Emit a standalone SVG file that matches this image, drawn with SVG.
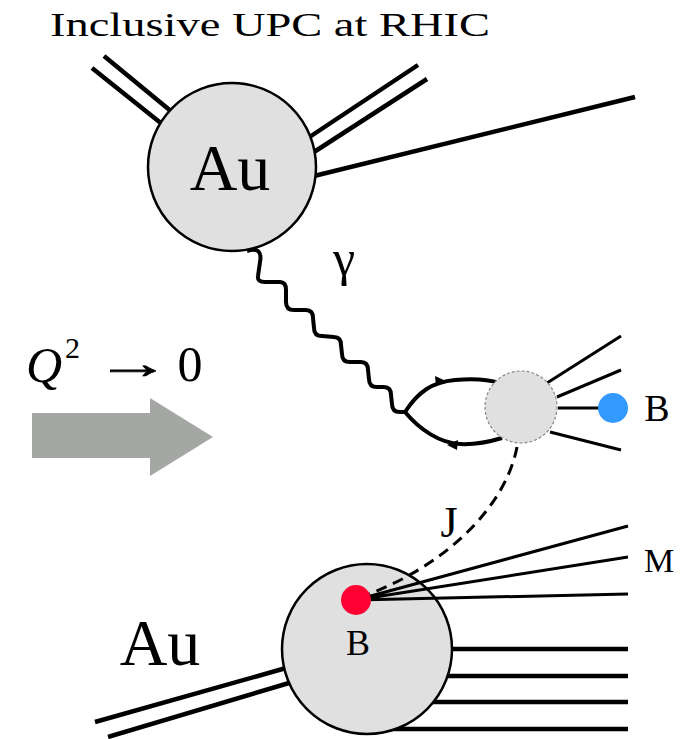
<svg xmlns="http://www.w3.org/2000/svg" width="687" height="739" viewBox="0 0 687 739">
<style>
.t{font-family:"Liberation Serif","DejaVu Serif",serif;fill:#000}
.ln{stroke:#000;fill:none;stroke-linecap:butt}
.nuc{fill:#e0e0e0;stroke:#000;stroke-width:2.5}
</style>
<rect width="687" height="739" fill="#fff"/>
<text class="t" x="50" y="36" font-size="34" textLength="440" lengthAdjust="spacingAndGlyphs">Inclusive UPC at RHIC</text>

<g id="connectors">
  <!-- top nucleus legs -->
  <path class="ln" stroke-width="4.5" d="M92,68 L162,124 M104,56 L172,112"/>
  <path class="ln" stroke-width="4.5" d="M418,65 L308,138 M427,79 L314,152"/>
  <path class="ln" stroke-width="4.5" d="M635,97 L314,176"/>
  <!-- photon -->
  <path class="ln" stroke-width="4" stroke-linejoin="round" stroke-linecap="round" d="M247,251 Q263,246 260,262 L258,276 Q257,282 265,282 L280,282 Q286,282 286,290 L286,302 Q286,310 294,310 L306,310 Q313,310 313,318 L314,328 Q314,336 322,336 L334,337 Q341,337 341,345 L342,354 Q342,362 350,362 L361,362 Q368,362 368,370 L369,379 Q369,387 377,387 L384,387 Q391,387 391,395 L392,404 Q392,412 400,412 L405,412"/>
  <!-- quark loop -->
  <path class="ln" stroke-width="4" d="M405,412 C418,392 432,382 455,380 C475,378 490,380 500,383"/>
  <path class="ln" stroke-width="4" d="M405,412 C420,430 440,443 460,444 C478,445 492,441 502,438"/>
  <path d="M435,376 L446,381 L436,386 Z" fill="#000"/>
  <path d="M458,440 L447,445 L457,450 Z" fill="#000"/>
  <!-- blob outgoing -->
  <path class="ln" stroke-width="3" d="M547,383 L621,336 M557,397 L621,370 M558,408 L613,408 M550,432 L621,450"/>
  <!-- bottom nucleus legs -->
  <path class="ln" stroke-width="4.5" d="M95,722 L286,668 M108,737 L289,683"/>
  <path class="ln" stroke-width="4.5" d="M440,649 L628,649 M440,676 L628,676 M425,702 L628,702 M385,729 L628,729"/>
</g>

<g id="nucleus-top">
  <circle class="nuc" cx="232" cy="167" r="84"/>
  <text class="t" x="230" y="190" font-size="66" text-anchor="middle">Au</text>
</g>

<g id="photon-label">
  <text class="t" x="344" y="275" font-size="50" text-anchor="middle">γ</text>
</g>

<g id="blob">
  <circle cx="521" cy="407" r="36" fill="#e0e0e0" stroke="#888" stroke-width="1.2" stroke-dasharray="3,2"/>
</g>

<g id="B-top">
  <circle cx="613" cy="408" r="15" fill="#3399ff"/>
  <text class="t" x="657" y="421" font-size="38" text-anchor="middle">B</text>
</g>

<g id="q2label">
  <text class="t" x="26" y="382" font-size="50" font-style="italic">Q</text>
  <text class="t" x="65" y="358" font-size="30">2</text>
  <text class="t" transform="translate(95,378) scale(1.9,1.1)" font-size="40" stroke="#000" stroke-width="0.6">→</text>
  <text class="t" x="190" y="381" font-size="50" text-anchor="middle">0</text>
</g>

<g id="big-arrow">
  <path d="M32,413 L150,413 L150,398 L213,437 L150,476 L150,458 L32,458 Z" fill="#a5a7a5"/>
</g>

<g id="nucleus-bottom">
  <circle class="nuc" cx="367" cy="649" r="85"/>
  <text class="t" x="358" y="655" font-size="36" text-anchor="middle">B</text>
</g>

<g id="fan">
  <path class="ln" stroke-width="3" d="M356,600 L628,526 M356,600 L628,557 M356,600 L628,594"/>
  <path class="ln" stroke-width="3" stroke-dasharray="11,7" d="M517,447 C505,510 440,570 358,598"/>
  <circle cx="356" cy="600" r="15" fill="#ff0033"/>
</g>

<g id="labels">
  <text class="t" x="449" y="537" font-size="44" text-anchor="middle">J</text>
  <text class="t" x="659" y="572" font-size="34" text-anchor="middle">M</text>
  <text class="t" x="160" y="665" font-size="66" text-anchor="middle">Au</text>
</g>
</svg>
